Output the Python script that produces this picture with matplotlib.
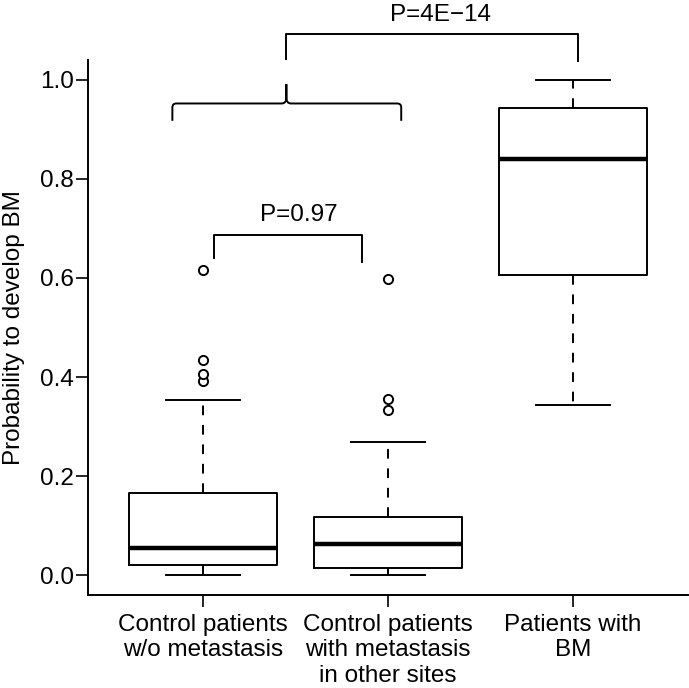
import numpy as np
import matplotlib
matplotlib.use("Agg")
import matplotlib.pyplot as plt
from matplotlib.path import Path
from matplotlib.patches import PathPatch

plt.rcParams['font.family'] = ['Liberation Sans', 'DejaVu Sans']

# -------------------------------
# Data
# -------------------------------
groups = ["Control patients\nw/o metastasis",
          "Control patients\nwith metastasis\nin other sites",
          "Patients with\nBM"]
whislo = [0.0, 0.0, 0.344]
q1 = [0.020, 0.014, 0.605]
med = [0.055, 0.064, 0.839]
q3 = [0.167, 0.118, 0.942]
whishi = [0.353, 0.269, 1.0]
fliers = [[0.393, 0.407, 0.435, 0.616],
          [0.334, 0.355, 0.598],
          []]

p_small = "P=0.97"
p_big = "P=4E\u221214"

stats = []
for i in range(len(groups)):
    stats.append({'whislo': whislo[i], 'q1': q1[i], 'med': med[i],
                  'q3': q3[i], 'whishi': whishi[i], 'fliers': fliers[i]})

# -------------------------------
# Figure
# -------------------------------
fs = 17.5
fig = plt.figure(figsize=(6.89, 6.88), dpi=100)
ax = fig.add_axes([0.128, 0.135, 0.870, 0.778])

lw = 1.4
ax.bxp(stats, positions=[1, 2, 3], widths=0.8, capwidths=0.4,
       showfliers=True,
       boxprops=dict(color='black', linewidth=lw),
       medianprops=dict(color='black', linewidth=3.2, solid_capstyle='butt'),
       whiskerprops=dict(color='black', linewidth=lw, linestyle=(0, (5, 5))),
       capprops=dict(color='black', linewidth=lw),
       flierprops=dict(marker='o', markersize=6.6, markerfacecolor='white',
                       markeredgecolor='black', markeredgewidth=1.4))

ax.set_xlim(0.38, 3.62)
ax.set_ylim(-0.04, 1.04)
ax.set_yticks([0.0, 0.2, 0.4, 0.6, 0.8, 1.0])
ax.set_yticklabels(["0.0", "0.2", "0.4", "0.6", "0.8", "1.0"])
ax.set_xticks([1, 2, 3])
ax.set_xticklabels(groups, linespacing=1.2)

for side in ['top', 'right']:
    ax.spines[side].set_visible(False)
for side in ['left', 'bottom']:
    ax.spines[side].set_linewidth(lw)

ax.tick_params(axis='both', direction='out', length=8.5, width=1.2,
               labelsize=fs, colors='black')
ax.tick_params(axis='y', pad=2)
ax.tick_params(axis='x', pad=5)

ax.set_ylabel("Probability to develop BM", fontsize=fs)
ax.yaxis.label.set_va('center')
ax.yaxis.set_label_coords(-0.124, 0.5)

# -------------------------------
# Significance brackets
# -------------------------------
# small bracket between groups 1 and 2
ax.plot([1.061, 1.061, 1.862, 1.862], [0.640, 0.687, 0.687, 0.633],
        color='black', linewidth=lw, clip_on=False)
ax.text(1.52, 0.727, p_small, ha='center', va='center', fontsize=fs)

# big bracket between controls and BM patients
ax.plot([1.451, 1.451, 3.025, 3.025], [1.041, 1.093, 1.093, 1.037],
        color='black', linewidth=lw, clip_on=False)
ax.text(2.285, 1.13, p_big, ha='center', va='center', fontsize=fs,
        clip_on=False)

# curly brace spanning both control groups
xl, xr, xc = 0.835, 2.072, 1.451
yb, yh, yp = 0.917, 0.952, 0.991
rx, ry = 0.022, 0.008
verts = [(xl, yb), (xl, yh - ry), (xl, yh), (xl + rx, yh),
         (xc - 0.025, yh), (xc, yh), (xc, yh + 0.012), (xc, yp),
         (xc, yh + 0.012), (xc, yh), (xc + 0.025, yh),
         (xr - rx, yh), (xr, yh), (xr, yh - ry), (xr, yb)]
codes = [Path.MOVETO, Path.LINETO, Path.CURVE3, Path.CURVE3,
         Path.LINETO, Path.CURVE3, Path.CURVE3, Path.LINETO,
         Path.LINETO, Path.CURVE3, Path.CURVE3,
         Path.LINETO, Path.CURVE3, Path.CURVE3, Path.LINETO]
brace = PathPatch(Path(verts, codes), facecolor='none', edgecolor='black',
                  linewidth=lw, clip_on=False)
ax.add_patch(brace)

fig.savefig("out.png", dpi=100)
